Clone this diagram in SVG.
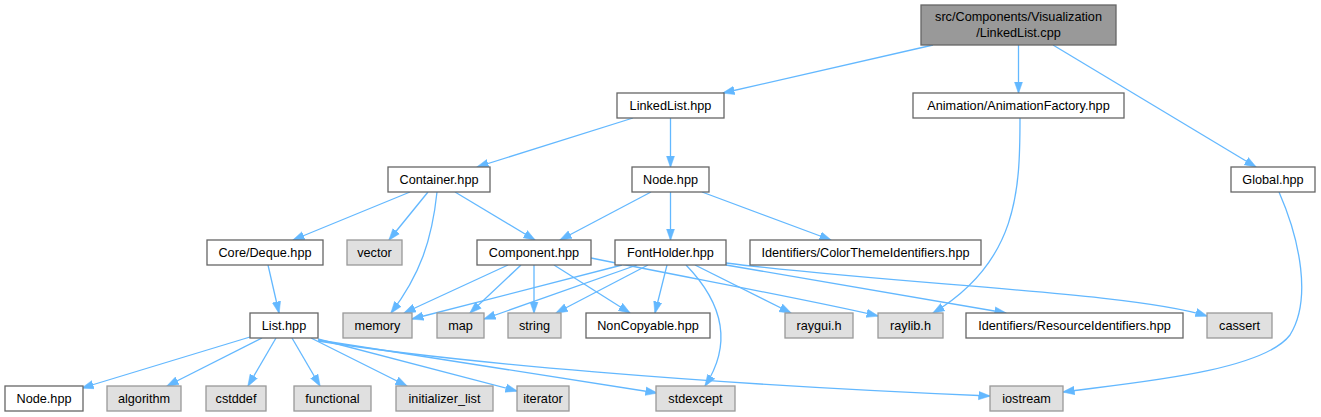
<svg xmlns="http://www.w3.org/2000/svg" width="1321" height="417" viewBox="0 0 1321 417">
<style>
.n rect{fill:#ffffff;stroke:#666666;stroke-width:1.3}
.s rect{fill:#e0e0e0;stroke:#999999;stroke-width:1.3}
.r rect{fill:#999999;stroke:#666666;stroke-width:1.3}
text{font-family:"Liberation Sans",Arial,sans-serif;font-size:12.7px;fill:#000000;text-anchor:middle}
#edges path{fill:none;stroke:#63b8ff;stroke-width:1.3;marker-end:url(#ah)}
</style>
<defs>
<marker id="ah" viewBox="0 0 12 10" refX="11.5" refY="5" markerWidth="12" markerHeight="10" markerUnits="userSpaceOnUse" orient="auto">
<path d="M0,0.8 L12,5 L0,9.2 Z" fill="#63b8ff" stroke="#63b8ff" stroke-width="0.5"/>
</marker>
</defs>
<rect width="1321" height="417" fill="#ffffff"/>
<g id="edges">
<path d="M933,45 L723,93"/>
<path d="M1018.5,45 L1018.5,93"/>
<path d="M1053,45 L1256,167"/>
<path d="M633,118 L477,167"/>
<path d="M670.5,118 L670.5,167"/>
<path d="M1020,118 C1020,190 1018,262 933,313"/>
<path d="M1279,192 C1300,240 1312,300 1290,335 C1262,372 1130,383 1063,392"/>
<path d="M410,192 L293,240"/>
<path d="M428,192 L389,240"/>
<path d="M437,192 C432,240 420,275 391,313"/>
<path d="M455,192 L535,240"/>
<path d="M651,192 L560,240"/>
<path d="M670.5,192 L670.5,240"/>
<path d="M702,192 L831,240"/>
<path d="M268,265 L279,313"/>
<path d="M508,265 L404,313"/>
<path d="M521,265 L470,313"/>
<path d="M534,265 L534,313"/>
<path d="M554,265 L630,313"/>
<path d="M591,258 C700,280 820,302 878,316"/>
<path d="M622,265 L412,319"/>
<path d="M637,265 L484,319"/>
<path d="M648,265 L556,313"/>
<path d="M667,265 L655,313"/>
<path d="M686,265 C720,300 735,340 705,386"/>
<path d="M695,265 L791,313"/>
<path d="M726,265 L1006,313"/>
<path d="M726,263 C900,285 1130,292 1207,316"/>
<path d="M250,337 L82,388"/>
<path d="M262,338 L167,386"/>
<path d="M276,338 L248,386"/>
<path d="M292,338 L320,386"/>
<path d="M311,338 L407,386"/>
<path d="M318,339 L517,391"/>
<path d="M318,340 L657,393"/>
<path d="M318,341 C450,362 700,384 990,396"/>
</g>
<g id="node_root" class="r"><rect x="921" y="5" width="195" height="40"/><text x="1018.5" y="21">src/Components/Visualization</text><text x="1018.5" y="37">/LinkedList.cpp</text></g>
<g id="node_linkedlist_hpp" class="n"><rect x="617" y="93" width="107" height="25"/><text x="670.5" y="110">LinkedList.hpp</text></g>
<g id="node_animationfactory" class="n"><rect x="913" y="93" width="211" height="25"/><text x="1018.5" y="110">Animation/AnimationFactory.hpp</text></g>
<g id="node_container" class="n"><rect x="388" y="167" width="102" height="25"/><text x="439" y="184">Container.hpp</text></g>
<g id="node_node_hpp" class="n"><rect x="632" y="167" width="77" height="25"/><text x="670.5" y="184">Node.hpp</text></g>
<g id="node_global" class="n"><rect x="1231" y="167" width="84" height="25"/><text x="1273" y="184">Global.hpp</text></g>
<g id="node_deque" class="n"><rect x="207" y="240" width="116" height="25"/><text x="265" y="257">Core/Deque.hpp</text></g>
<g id="node_vector" class="s"><rect x="347" y="240" width="55" height="25"/><text x="374.5" y="257">vector</text></g>
<g id="node_component" class="n"><rect x="477" y="240" width="114" height="25"/><text x="534" y="257">Component.hpp</text></g>
<g id="node_fontholder" class="n"><rect x="615" y="240" width="111" height="25"/><text x="670.5" y="257">FontHolder.hpp</text></g>
<g id="node_colortheme" class="n"><rect x="750" y="240" width="231" height="25"/><text x="865.5" y="257">Identifiers/ColorThemeIdentifiers.hpp</text></g>
<g id="node_list" class="n"><rect x="250" y="313" width="68" height="25"/><text x="284" y="330">List.hpp</text></g>
<g id="node_memory" class="s"><rect x="343" y="313" width="69" height="25"/><text x="377.5" y="330">memory</text></g>
<g id="node_map" class="s"><rect x="437" y="313" width="47" height="25"/><text x="460.5" y="330">map</text></g>
<g id="node_string" class="s"><rect x="508" y="313" width="53" height="25"/><text x="534.5" y="330">string</text></g>
<g id="node_noncopyable" class="n"><rect x="586" y="313" width="124" height="25"/><text x="648" y="330">NonCopyable.hpp</text></g>
<g id="node_raygui" class="s"><rect x="785" y="313" width="68" height="25"/><text x="819" y="330">raygui.h</text></g>
<g id="node_raylib" class="s"><rect x="878" y="313" width="65" height="25"/><text x="910.5" y="330">raylib.h</text></g>
<g id="node_resourceids" class="n"><rect x="966" y="313" width="217" height="25"/><text x="1074.5" y="330">Identifiers/ResourceIdentifiers.hpp</text></g>
<g id="node_cassert" class="s"><rect x="1207" y="313" width="65" height="25"/><text x="1239.5" y="330">cassert</text></g>
<g id="node_node_hpp2" class="n"><rect x="5" y="386" width="78" height="25"/><text x="44" y="403">Node.hpp</text></g>
<g id="node_algorithm" class="s"><rect x="107" y="386" width="74" height="25"/><text x="144" y="403">algorithm</text></g>
<g id="node_cstddef" class="s"><rect x="206" y="386" width="60" height="25"/><text x="236" y="403">cstddef</text></g>
<g id="node_functional" class="s"><rect x="294" y="386" width="77" height="25"/><text x="332.5" y="403">functional</text></g>
<g id="node_initializer_list" class="s"><rect x="396" y="386" width="97" height="25"/><text x="444.5" y="403">initializer_list</text></g>
<g id="node_iterator" class="s"><rect x="517" y="386" width="52" height="25"/><text x="543" y="403">iterator</text></g>
<g id="node_stdexcept" class="s"><rect x="656" y="386" width="79" height="25"/><text x="695.5" y="403">stdexcept</text></g>
<g id="node_iostream" class="s"><rect x="990" y="386" width="73" height="25"/><text x="1026.5" y="403">iostream</text></g>
</svg>
